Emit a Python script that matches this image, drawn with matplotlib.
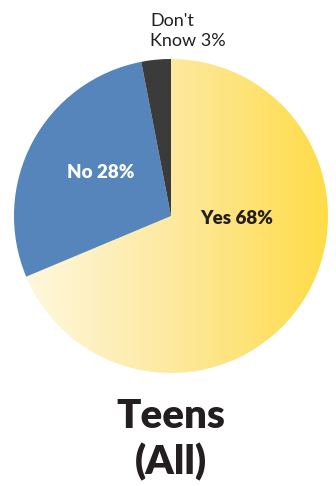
import numpy as np
import matplotlib
matplotlib.use("Agg")
import matplotlib.pyplot as plt
from matplotlib.colors import LinearSegmentedColormap

labels = ["Yes", "No", "Don't\nKnow"]
values = [68, 28, 3]
colors = ["none", "#5585BB", "#3B3B3B"]
title = "Teens\n(All)"

plt.rcParams['font.family'] = ['Lato', 'DejaVu Sans']

fig = plt.figure(figsize=(3.36, 4.86), dpi=100)
ax = fig.add_axes([0, 0, 1, 1])

cx, cy, r = 171, 270, 157
wedges, _ = ax.pie(values, colors=colors, startangle=90, counterclock=False,
                   center=(cx, cy), radius=r, frame=True,
                   wedgeprops=dict(linewidth=0))
ax.set_xlim(0, 336)
ax.set_ylim(0, 486)
ax.set_aspect("equal")
ax.axis("off")

# yellow gradient for the "Yes" slice
cmap = LinearSegmentedColormap.from_list("yel", ["#FFF9E2", "#FDE9A0", "#FFDC48"])
grad = np.linspace(0, 1, 256).reshape(1, -1)
im = ax.imshow(grad, cmap=cmap, extent=(cx - r, cx + r, cy - r, cy + r),
               aspect="auto", zorder=0.5)
im.set_clip_path(wedges[0])

dark = "#231F20"
ax.text(237, 267, "Yes 68%", ha="center", va="center", fontsize=13.5,
        fontweight="heavy", color=dark)
ax.text(101, 314, "No 28%", ha="center", va="center", fontsize=13.5,
        fontweight="heavy", color="white")
ax.text(150, 455, "Don't\nKnow 3%", ha="left", va="center", fontsize=13,
        color=dark, linespacing=1.3)
ax.text(171, 46, title, ha="center", va="center", fontsize=29,
        fontweight="heavy", color=dark, linespacing=1.25)

fig.savefig("out.png", dpi=100)
